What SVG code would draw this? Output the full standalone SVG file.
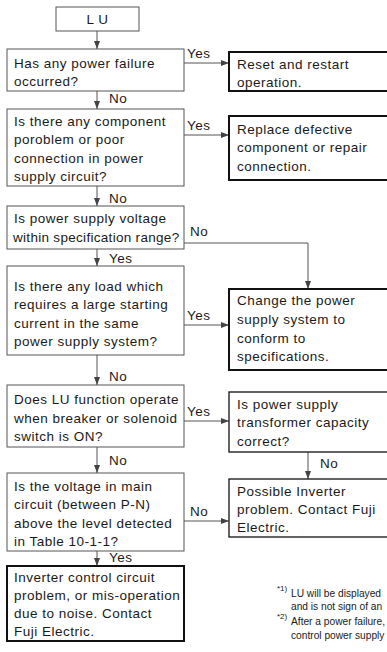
<svg xmlns="http://www.w3.org/2000/svg" width="387" height="652" viewBox="0 0 387 652">
<defs>
<style>
text{font-family:"Liberation Sans",Arial,sans-serif;font-size:13.5px;letter-spacing:0.5px;fill:#1a1a1a}
.box{fill:#fff;stroke:#555;stroke-width:1}
.bold{fill:#fff;stroke:#111;stroke-width:2}
.med{fill:#fff;stroke:#222;stroke-width:1.4}
.ln{fill:none;stroke:#555;stroke-width:1}
.fn{font-size:8px;letter-spacing:0}
.nt{font-size:10.2px;letter-spacing:0}
</style>
<marker id="ah" markerWidth="9" markerHeight="7" refX="8" refY="3.5" orient="auto" markerUnits="userSpaceOnUse">
<path d="M0,0.5 L8,3.5 L0,6.5 Z" fill="#444"/>
</marker>
</defs>
<rect width="387" height="652" fill="#fff"/>
<g id="connectors">
<line class="ln" x1="97" y1="31" x2="97" y2="49" marker-end="url(#ah)"/>
<line class="ln" x1="184" y1="63" x2="229" y2="63" marker-end="url(#ah)"/>
<line class="ln" x1="97" y1="91" x2="97" y2="109" marker-end="url(#ah)"/>
<line class="ln" x1="184" y1="135" x2="229" y2="135" marker-end="url(#ah)"/>
<line class="ln" x1="97" y1="186" x2="97" y2="206" marker-end="url(#ah)"/>
<polyline class="ln" points="184,243 308,243 308,289" marker-end="url(#ah)"/>
<line class="ln" x1="97" y1="249" x2="97" y2="266" marker-end="url(#ah)"/>
<line class="ln" x1="184" y1="325" x2="229" y2="325" marker-end="url(#ah)"/>
<line class="ln" x1="97" y1="355" x2="97" y2="385" marker-end="url(#ah)"/>
<line class="ln" x1="184" y1="421" x2="229" y2="421" marker-end="url(#ah)"/>
<line class="ln" x1="308" y1="452" x2="308" y2="479" marker-end="url(#ah)"/>
<line class="ln" x1="97" y1="447" x2="97" y2="473" marker-end="url(#ah)"/>
<line class="ln" x1="184" y1="521" x2="229" y2="521" marker-end="url(#ah)"/>
<line class="ln" x1="97" y1="551" x2="97" y2="566" marker-end="url(#ah)"/>
<text x="187" y="58">Yes</text>
<text x="109" y="103">No</text>
<text x="187" y="130">Yes</text>
<text x="109" y="203">No</text>
<text x="190" y="236">No</text>
<text x="109" y="263">Yes</text>
<text x="187" y="320">Yes</text>
<text x="109" y="381">No</text>
<text x="187" y="416">Yes</text>
<text x="320" y="468">No</text>
<text x="109" y="465">No</text>
<text x="190" y="516">No</text>
<text x="109" y="562">Yes</text>
</g>
<g id="lu">
<rect class="box" x="56" y="7" width="83" height="24"/>
<text x="97.5" y="24" text-anchor="middle">L U</text>
</g>
<g id="q1">
<rect class="box" x="7" y="49" width="177" height="42"/>
<text x="14" y="68">Has any power failure</text>
<text x="14" y="86">occurred?</text>
</g>
<g id="a1">
<rect class="bold" x="229" y="52" width="170" height="39"/>
<text x="237" y="69">Reset and restart</text>
<text x="237" y="87">operation.</text>
</g>
<g id="q2">
<rect class="box" x="7" y="109" width="177" height="77"/>
<text x="14" y="126">Is there any component</text>
<text x="14" y="144">poroblem or poor</text>
<text x="14" y="163">connection in power</text>
<text x="14" y="181">supply circuit?</text>
</g>
<g id="a2">
<rect class="bold" x="229" y="116" width="170" height="64"/>
<text x="237" y="134">Replace defective</text>
<text x="237" y="152">component or repair</text>
<text x="237" y="171">connection.</text>
</g>
<g id="q3">
<rect class="box" x="7" y="206" width="177" height="43"/>
<text x="14" y="223">Is power supply voltage</text>
<text x="13" y="242" style="letter-spacing:0.3px">within specification range?</text>
</g>
<g id="q4">
<rect class="box" x="7" y="266" width="177" height="89"/>
<text x="14" y="291">Is there any load which</text>
<text x="14" y="309">requires a large starting</text>
<text x="14" y="328">current in the same</text>
<text x="14" y="346">power supply system?</text>
</g>
<g id="a3">
<rect class="bold" x="229" y="289" width="170" height="81"/>
<text x="237" y="305">Change the power</text>
<text x="237" y="324">supply system to</text>
<text x="237" y="343">conform to</text>
<text x="237" y="361">specifications.</text>
</g>
<g id="q5">
<rect class="box" x="7" y="385" width="177" height="62"/>
<text x="14" y="404">Does LU function operate</text>
<text x="14" y="423">when breaker or solenoid</text>
<text x="14" y="441">switch is ON?</text>
</g>
<g id="q5b">
<rect class="med" x="229" y="392" width="170" height="60"/>
<text x="237" y="409">Is power supply</text>
<text x="237" y="427">transformer capacity</text>
<text x="237" y="446">correct?</text>
</g>
<g id="a5">
<rect class="med" x="229" y="479" width="170" height="58"/>
<text x="237" y="496">Possible Inverter</text>
<text x="237" y="514">problem. Contact Fuji</text>
<text x="237" y="532">Electric.</text>
</g>
<g id="q6">
<rect class="box" x="7" y="473" width="177" height="78"/>
<text x="14" y="491">Is the voltage in main</text>
<text x="14" y="509">circuit (between P-N)</text>
<text x="14" y="528">above the level detected</text>
<text x="14" y="546">in Table 10-1-1?</text>
</g>
<g id="a6">
<rect class="bold" x="7" y="566" width="177" height="75"/>
<text x="14" y="582">Inverter control circuit</text>
<text x="14" y="600">problem, or mis-operation</text>
<text x="14" y="618">due to noise. Contact</text>
<text x="14" y="636">Fuji Electric.</text>
</g>
<g id="notes">
<text class="fn" x="277" y="591">*1)</text>
<text class="nt" x="291" y="597">LU will be displayed</text>
<text class="nt" x="291" y="610">and is not sign of an</text>
<text class="fn" x="277" y="619">*2)</text>
<text class="nt" x="291" y="625">After a power failure,</text>
<text class="nt" x="291" y="639">control power supply</text>
</g>
</svg>
